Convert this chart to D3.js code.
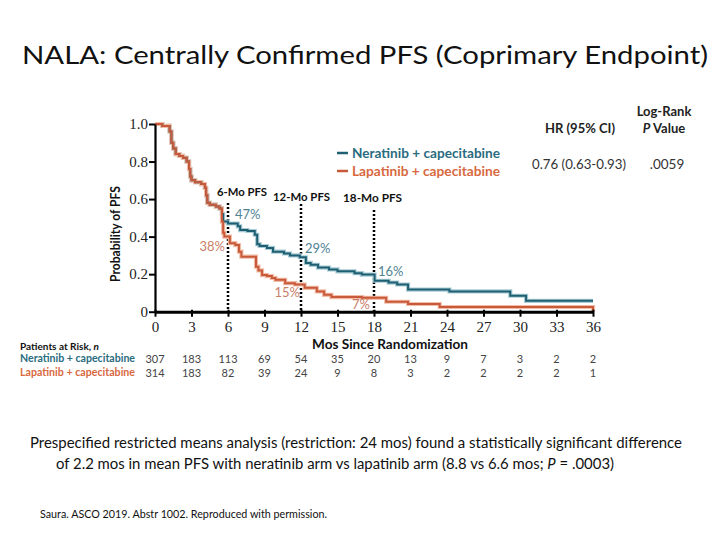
<!DOCTYPE html>
<html>
<head>
<meta charset="utf-8">
<script src="https://cdn.jsdelivr.net/npm/d3@7/dist/d3.min.js"></script>
<style>
  html, body { margin: 0; padding: 0; background: #fff; }
  svg { display: block; font-family: Lato, "Open Sans", sans-serif; }
</style>
</head>
<body>
<svg id="chart" width="720" height="540"></svg>
<script>
// ---------- data ----------
const xTicks = [0, 3, 6, 9, 12, 15, 18, 21, 24, 27, 30, 33, 36];
const yTicks = [0, 0.2, 0.4, 0.6, 0.8, 1.0];

// Kaplan-Meier step points [month, survival]
const neratinib = [
  [0, 1.0], [0.6, 0.99], [1.2, 0.96], [1.35, 0.90], [1.5, 0.87], [1.7, 0.84],
  [2.0, 0.83], [2.3, 0.82], [2.6, 0.80], [2.8, 0.76], [2.9, 0.72], [3.0, 0.70],
  [3.3, 0.69], [3.8, 0.68], [4.1, 0.66], [4.2, 0.62], [4.3, 0.58], [4.5, 0.57],
  [5.0, 0.56], [5.3, 0.55], [5.5, 0.52], [5.6, 0.48], [6.0, 0.47], [6.8, 0.455],
  [7.0, 0.435], [7.6, 0.43], [8.2, 0.41], [8.4, 0.36], [8.6, 0.35], [9.2, 0.34],
  [9.7, 0.32], [10.6, 0.31], [11.1, 0.30], [11.9, 0.29], [12.4, 0.26], [12.8, 0.25],
  [13.4, 0.235], [14.3, 0.225], [15.0, 0.215], [16.4, 0.205], [17.0, 0.198],
  [18.05, 0.165], [19.2, 0.155], [19.9, 0.145], [20.8, 0.118], [24.2, 0.108],
  [29.2, 0.085], [30.5, 0.058], [36, 0.058]
];
const lapatinib = [
  [0, 1.0], [0.6, 0.99], [1.2, 0.96], [1.35, 0.90], [1.5, 0.87], [1.7, 0.84],
  [2.0, 0.83], [2.3, 0.82], [2.6, 0.80], [2.8, 0.76], [2.9, 0.72], [3.0, 0.70],
  [3.3, 0.69], [3.8, 0.68], [4.1, 0.66], [4.2, 0.62], [4.3, 0.58], [4.5, 0.57],
  [5.0, 0.56], [5.3, 0.55], [5.5, 0.48], [5.6, 0.42], [5.7, 0.40], [6.15, 0.365],
  [6.6, 0.355], [6.9, 0.32], [7.1, 0.293], [8.3, 0.24], [8.5, 0.22], [8.8, 0.195],
  [9.2, 0.19], [9.6, 0.18], [9.9, 0.17], [10.7, 0.152], [11.5, 0.145], [12.3, 0.127],
  [13.3, 0.108], [13.9, 0.09], [14.5, 0.078], [17.0, 0.074], [19.0, 0.053],
  [20.8, 0.041], [23.4, 0.025], [36, 0.025], [36, 0.0]
];

const riskNeratinib = [307, 183, 113, 69, 54, 35, 20, 13, 9, 7, 3, 2, 2];
const riskLapatinib = [314, 183, 82, 39, 24, 9, 8, 3, 2, 2, 2, 2, 1];

const milestones = [
  { month: 6, label: "6-Mo PFS", top: 203, lx: 242, ly: 196, w: 50 },
  { month: 12, label: "12-Mo PFS", top: 204, lx: 301.5, ly: 201, w: 57 },
  { month: 18, label: "18-Mo PFS", top: 210, lx: 372.5, ly: 202, w: 59 }
];

// ---------- drawing ----------
const svg = d3.select("#chart");
const x = d3.scaleLinear().domain([0, 36]).range([155, 593]);
const y = d3.scaleLinear().domain([0, 1]).range([311.7, 124]);

const BLUE = "#1f5f72", BLUE_HALO = "#a9ccd6", BLUE_TXT = "#2a6c80";
const ORANGE = "#c85a3b", ORANGE_HALO = "#f2bca6", ORANGE_TXT = "#d8693f";

// title
svg.append("text").attr("x", 365).attr("y", 64)
  .attr("text-anchor", "middle").attr("font-size", 25).attr("fill", "#111")
  .attr("textLength", 686).attr("lengthAdjust", "spacingAndGlyphs")
  .text("NALA: Centrally Confirmed PFS (Coprimary Endpoint)");

// dotted milestone lines
milestones.forEach(m => {
  svg.append("line")
    .attr("x1", x(m.month)).attr("x2", x(m.month))
    .attr("y1", m.top).attr("y2", y(0))
    .attr("stroke", "#000").attr("stroke-width", 2.5)
    .attr("stroke-dasharray", "2,2");
});

// curves
const line = d3.line().x(d => x(d[0])).y(d => y(d[1])).curve(d3.curveStepAfter);
[[neratinib, BLUE_HALO], [lapatinib, ORANGE_HALO]].forEach(([data, h]) => {
  svg.append("path").attr("d", line(data)).attr("fill", "none")
    .attr("stroke", h).attr("stroke-width", 4.2);
});
[[neratinib, BLUE], [lapatinib, ORANGE]].forEach(([data, c]) => {
  svg.append("path").attr("d", line(data)).attr("fill", "none")
    .attr("stroke", c).attr("stroke-width", 2);
});

// milestone labels
milestones.forEach(m => {
  svg.append("text").attr("x", m.lx).attr("y", m.ly)
    .attr("text-anchor", "middle").attr("font-size", 11.5)
    .attr("font-weight", "bold").attr("fill", "#111")
    .attr("textLength", m.w).attr("lengthAdjust", "spacingAndGlyphs").text(m.label);
});

// axes
const yAxis = svg.append("g").attr("transform", `translate(${x(0)},0)`)
  .call(d3.axisLeft(y).tickValues(yTicks).tickSizeInner(6).tickSizeOuter(0).tickPadding(1)
    .tickFormat(d => d === 0 ? "0" : d3.format(".1f")(d)));
yAxis.select(".domain").attr("stroke-width", 2.2);
yAxis.selectAll(".tick line").attr("stroke-width", 2);
yAxis.selectAll("text").style("font-family", "'Liberation Serif', 'DejaVu Serif', serif")
  .style("font-size", "15px").attr("fill", "#222");

const xAxis = svg.append("g").attr("transform", `translate(0,${y(0)})`)
  .call(d3.axisBottom(x).tickValues(xTicks).tickSizeInner(5).tickSizeOuter(0).tickPadding(5));
xAxis.select(".domain").attr("stroke-width", 3);
xAxis.selectAll(".tick line").attr("stroke-width", 2).attr("y1", -2);
xAxis.selectAll("text").style("font-family", "'Liberation Serif', 'DejaVu Serif', serif")
  .style("font-size", "15px").attr("fill", "#222");

// axis titles
svg.append("text").attr("transform", "translate(120,234) rotate(-90)")
  .attr("text-anchor", "middle").attr("font-size", 13.5).attr("font-weight", "bold")
  .attr("fill", "#111").attr("textLength", 96).attr("lengthAdjust", "spacingAndGlyphs")
  .text("Probability of PFS");
svg.append("text").attr("x", 390).attr("y", 349)
  .attr("text-anchor", "middle").attr("font-size", 14).attr("font-weight", "bold")
  .attr("fill", "#111").attr("textLength", 156).attr("lengthAdjust", "spacingAndGlyphs")
  .text("Mos Since Randomization");

// percent labels
const pct = [
  { t: "47%", x: 235, y: 219, a: "start", c: "#4f8393" },
  { t: "38%", x: 225, y: 251, a: "end", c: "#c98069" },
  { t: "29%", x: 305, y: 253, a: "start", c: "#4f8393" },
  { t: "15%", x: 300, y: 297, a: "end", c: "#c98069" },
  { t: "16%", x: 378, y: 276, a: "start", c: "#4f8393" },
  { t: "7%", x: 370, y: 309, a: "end", c: "#c98069" }
];
pct.forEach(p => svg.append("text").attr("x", p.x).attr("y", p.y)
  .attr("text-anchor", p.a).attr("font-size", 13).attr("fill", p.c).text(p.t));

// legend
[["Neratinib + capecitabine", BLUE, BLUE_TXT, 153], ["Lapatinib + capecitabine", ORANGE, ORANGE_TXT, 171]]
  .forEach(([t, c, tc, ly]) => {
    svg.append("line").attr("x1", 337).attr("x2", 348).attr("y1", ly).attr("y2", ly)
      .attr("stroke", c).attr("stroke-width", 2.5);
    svg.append("text").attr("x", 352).attr("y", ly + 4.5).attr("font-size", 12.5)
      .attr("font-weight", "bold").attr("fill", tc)
      .attr("textLength", 148).attr("lengthAdjust", "spacingAndGlyphs").text(t);
  });

// HR table
svg.append("text").attr("x", 664).attr("y", 116).attr("text-anchor", "middle")
  .attr("font-size", 13).attr("font-weight", "bold").attr("fill", "#222").text("Log-Rank");
const pv = svg.append("text").attr("x", 664).attr("y", 133).attr("text-anchor", "middle")
  .attr("font-size", 13).attr("font-weight", "bold").attr("fill", "#222");
pv.append("tspan").attr("font-style", "italic").text("P");
pv.append("tspan").text(" Value");
svg.append("text").attr("x", 580).attr("y", 133).attr("text-anchor", "middle")
  .attr("font-size", 13).attr("font-weight", "bold").attr("fill", "#222")
  .attr("textLength", 70).attr("lengthAdjust", "spacingAndGlyphs").text("HR (95% CI)");
svg.append("text").attr("x", 579).attr("y", 169).attr("text-anchor", "middle")
  .attr("font-size", 13.5).attr("fill", "#333")
  .attr("textLength", 94).attr("lengthAdjust", "spacingAndGlyphs").text("0.76 (0.63-0.93)");
svg.append("text").attr("x", 667).attr("y", 169).attr("text-anchor", "middle")
  .attr("font-size", 13.5).attr("fill", "#333").text(".0059");

// risk table
svg.append("text").attr("x", 20).attr("y", 350).attr("font-size", 10)
  .attr("font-weight", "bold").attr("fill", "#111")
  .html('Patients at Risk, <tspan font-style="italic">n</tspan>');
svg.append("text").attr("x", 20).attr("y", 362).attr("font-size", 10.5)
  .attr("font-weight", "bold").attr("fill", BLUE_TXT).attr("textLength", 115)
  .attr("lengthAdjust", "spacingAndGlyphs").text("Neratinib + capecitabine");
svg.append("text").attr("x", 20).attr("y", 376).attr("font-size", 10.5)
  .attr("font-weight", "bold").attr("fill", ORANGE_TXT).attr("textLength", 115)
  .attr("lengthAdjust", "spacingAndGlyphs").text("Lapatinib + capecitabine");
[[riskNeratinib, 362.5], [riskLapatinib, 376.5]].forEach(([arr, ry]) => {
  svg.append("g").selectAll("text").data(arr).join("text")
    .attr("x", (d, i) => x(xTicks[i])).attr("y", ry)
    .attr("text-anchor", "middle").attr("font-size", 11).attr("fill", "#444")
    .text(d => d);
});

// footer text
svg.append("text").attr("x", 30).attr("y", 448).attr("font-size", 14.5)
  .attr("fill", "#111").attr("textLength", 652).attr("lengthAdjust", "spacingAndGlyphs")
  .text("Prespecified restricted means analysis (restriction: 24 mos) found a statistically significant difference");
const f2 = svg.append("text").attr("x", 56).attr("y", 469).attr("font-size", 14.5)
  .attr("fill", "#111").attr("textLength", 558).attr("lengthAdjust", "spacingAndGlyphs");
f2.append("tspan").text("of 2.2 mos in mean PFS with neratinib arm vs lapatinib arm (8.8 vs 6.6 mos; ");
f2.append("tspan").attr("font-style", "italic").text("P");
f2.append("tspan").text(" = .0003)");
svg.append("text").attr("x", 40).attr("y", 518).attr("font-size", 10.5)
  .attr("fill", "#111").attr("textLength", 287).attr("lengthAdjust", "spacingAndGlyphs")
  .text("Saura. ASCO 2019. Abstr 1002. Reproduced with permission.");
</script>
</body>
</html>
